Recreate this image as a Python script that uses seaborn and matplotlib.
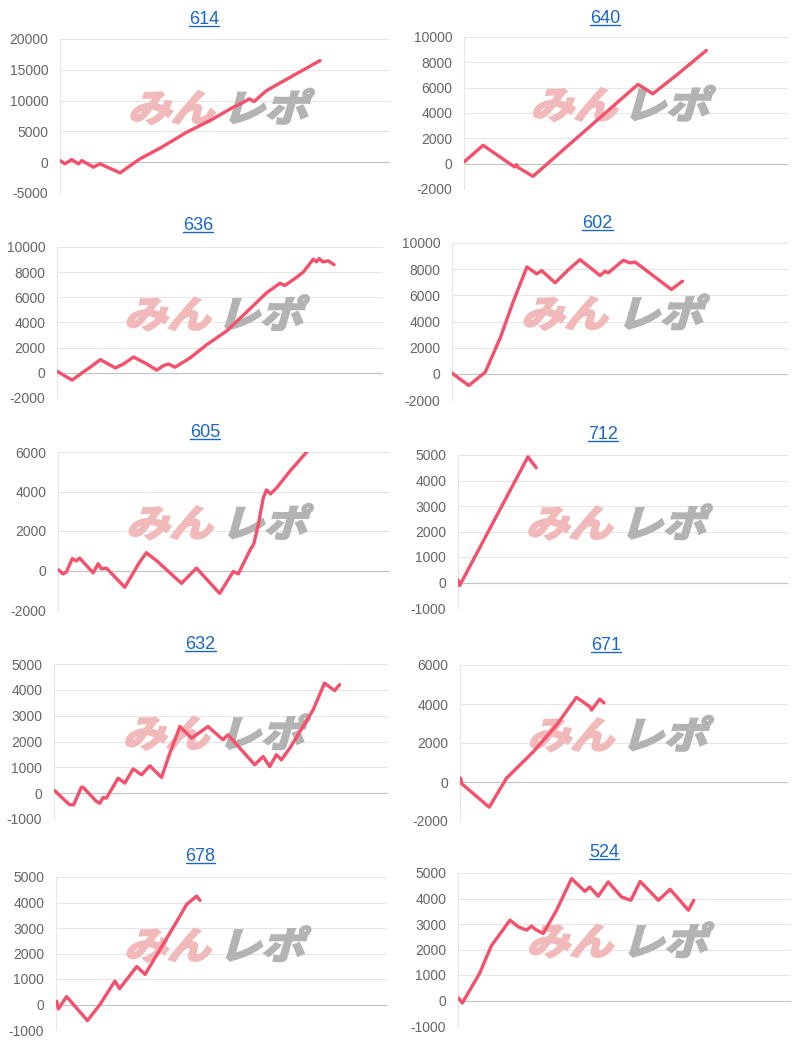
import matplotlib
matplotlib.use("Agg")
import matplotlib.pyplot as plt
import seaborn as sns
import pandas as pd
from matplotlib.patheffects import AbstractPathEffect
from matplotlib.transforms import Affine2D
from matplotlib.lines import Line2D

# ---------------- data (x = position along the axis in %, y = balance) ----------------
titles = ["614", "640", "636", "602", "605", "712", "632", "671", "678", "524"]

x_614 = [0, 1.5, 3.5, 5.6, 6.6, 10.1, 12.1, 18.2, 24.2, 30.3, 38.4, 45.5, 52.5, 55.6, 57.4, 58.8, 62.6, 70.7, 78.8]
y_614 = [270, -270, 430, -270, 270, -810, -270, -1730, 540, 2270, 4870, 6760, 8930, 9740, 10280, 9850, 11630, 14070, 16500]

x_640 = [0, 5.9, 15.6, 16.2, 16.7, 21.3, 53.7, 58.3, 65.5, 74.8]
y_640 = [130, 1450, -260, -80, -300, -1000, 6260, 5520, 6970, 8940]

x_636 = [0, 4.6, 7.7, 10.2, 13.3, 17.9, 20.4, 23.5, 27.6, 30.6, 32.7, 34.2, 36.2, 40.8, 45.9, 52.0,
         58.2, 64.3, 68.4, 69.9, 73.5, 75.5, 78.6, 79.6, 80.4, 81.6, 83.2, 85.0]
y_636 = [130, -580, 0, 450, 1050, 390, 700, 1260, 700, 210, 580, 700, 450, 1180, 2230, 3320,
         4840, 6360, 7120, 6940, 7590, 7990, 9030, 8820, 9080, 8820, 8900, 8590]

x_602 = [0, 5.0, 9.9, 14.4, 18.3, 22.3, 25.2, 26.7, 30.7, 34.7, 38.1, 44.1, 45.5, 46.5, 51.0, 53.0, 54.5, 65.3, 68.6]
y_602 = [50, -890, 130, 2780, 5570, 8170, 7640, 7890, 6960, 7970, 8730, 7510, 7840, 7720, 8680, 8480, 8550, 6450, 7080]

x_605 = [0, 1.5, 2.5, 4.3, 5.5, 6.5, 10.6, 12.1, 13.1, 14.6, 20.1, 24.6, 26.6, 29.6, 37.2, 41.7, 48.7,
         52.8, 54.3, 57.8, 59.0, 60.3, 61.8, 62.8, 64.0, 65.8, 69.8, 74.9]
y_605 = [50, -170, -85, 600, 480, 630, -120, 340, 85, 120, -850, 425, 900, 510, -650, 120, -1160,
         -50, -170, 1020, 1360, 2300, 3660, 4080, 3880, 4170, 5020, 6000]

x_712 = [0, 0.5, 21.2, 23.7]
y_712 = [100, -120, 4930, 4500]

x_632 = [0.2, 1.7, 4.7, 5.9, 8.2, 8.7, 12.7, 13.7, 14.7, 15.7, 19.2, 21.2, 23.7, 26.2, 28.7, 32.2,
         34.7, 37.7, 41.2, 46.1, 50.6, 52.1, 60.1, 62.6, 64.6, 66.6, 68.1, 70.6, 77.6, 81.0, 84.0, 85.5]
y_632 = [100, -90, -450, -450, 230, 230, -320, -390, -170, -190, 580, 390, 940, 710, 1060, 610,
         1550, 2580, 2130, 2580, 2070, 2260, 1100, 1420, 1030, 1490, 1290, 1740, 3230, 4260, 3970, 4200]

x_671 = [0.2, 0.5, 8.9, 14.2, 22.3, 29.4, 35.5, 39.6, 40.1, 42.6, 43.9]
y_671 = [200, -85, -1290, 200, 1540, 2910, 4340, 3860, 3690, 4250, 4060]

x_678 = [0.2, 0.7, 3.2, 9.5, 13.3, 17.8, 19.2, 24.4, 26.9, 35.5, 39.5, 42.5, 43.5]
y_678 = [130, -170, 310, -630, 0, 920, 620, 1490, 1180, 3040, 3930, 4250, 4080]

x_524 = [0.2, 1.3, 6.5, 10.0, 15.6, 18.1, 20.6, 22.1, 23.1, 25.6, 29.6, 34.1, 38.1, 39.6, 42.1, 45.1,
         49.1, 51.9, 54.7, 60.2, 63.7, 69.2, 70.8]
y_524 = [90, -100, 1070, 2140, 3150, 2890, 2760, 2920, 2800, 2630, 3540, 4780, 4280, 4450, 4090, 4650,
         4060, 3930, 4670, 3930, 4360, 3540, 3930]

yticks_614 = [-5000, 0, 5000, 10000, 15000, 20000]
yticks_640 = [-2000, 0, 2000, 4000, 6000, 8000, 10000]
yticks_636 = [-2000, 0, 2000, 4000, 6000, 8000, 10000]
yticks_602 = [-2000, 0, 2000, 4000, 6000, 8000, 10000]
yticks_605 = [-2000, 0, 2000, 4000, 6000]
yticks_712 = [-1000, 0, 1000, 2000, 3000, 4000, 5000]
yticks_632 = [-1000, 0, 1000, 2000, 3000, 4000, 5000]
yticks_671 = [-2000, 0, 2000, 4000, 6000]
yticks_678 = [-1000, 0, 1000, 2000, 3000, 4000, 5000]
yticks_524 = [-1000, 0, 1000, 2000, 3000, 4000, 5000]

series_x = [x_614, x_640, x_636, x_602, x_605, x_712, x_632, x_671, x_678, x_524]
series_y = [y_614, y_640, y_636, y_602, y_605, y_712, y_632, y_671, y_678, y_524]
yticks = [yticks_614, yticks_640, yticks_636, yticks_602, yticks_605,
          yticks_712, yticks_632, yticks_671, yticks_678, yticks_524]

# ---------------- layout (pixels) ----------------
W, H = 800, 1042
axes_px = [(60, 39, 390, 193), (464, 37, 788, 189),
           (57, 247, 383, 398), (452, 243, 788, 400),
           (58, 452, 390, 610), (458, 455, 788, 608),
           (54, 664, 388, 819), (460, 665, 788, 821),
           (56, 877, 387, 1030), (458, 873, 791, 1026)]
title_px = [(204, 24), (605, 23), (198, 230), (597.5, 228), (205, 437),
            (603, 439), (200.5, 649), (606.5, 650), (200.5, 861), (604, 857)]

LINE = "#f4506b"
GRID = "#e6e6e6"
ZERO = "#c4c4c4"
TICK = "#666666"
TITLE = "#1a66c9"


class Slant(AbstractPathEffect):
    """Stretch, slant and embolden glyph outlines (logo-like watermark)."""
    def __init__(self, sx=1.15, shear=14, stroke=1.6, color="k"):
        super().__init__()
        self.sx = sx
        self.shear = shear
        self.stroke = stroke
        self.color = color

    def draw_path(self, renderer, gc, tpath, affine, rgbFace=None):
        pre = Affine2D().skew_deg(self.shear, 0).scale(self.sx, 1.0)
        gc0 = renderer.new_gc()
        gc0.copy_properties(gc)
        gc0.set_linewidth(self.stroke)
        gc0.set_foreground(self.color)
        gc0.set_joinstyle("miter")
        renderer.draw_path(gc0, tpath, pre + affine, rgbFace)
        gc0.restore()


sns.set_theme(style="white")
plt.rcParams['font.family'] = ['Liberation Sans', 'DejaVu Sans']
plt.rcParams['axes.unicode_minus'] = False

fig = plt.figure(figsize=(W / 100, H / 100), dpi=100)
fig.patch.set_facecolor("white")

PINK_WM = "#f1b9b9"
GRAY_WM = "#b3b3b3"

title_texts = []
for i in range(len(titles)):
    L, T, R, B = axes_px[i]
    ax = fig.add_axes([L / W, 1 - B / H, (R - L) / W, (B - T) / H])
    df = pd.DataFrame({"x": series_x[i], "y": series_y[i]})
    sns.lineplot(data=df, x="x", y="y", ax=ax, color=LINE, lw=2.4, sort=False,
                 estimator=None, zorder=4)
    ax.set_xlim(0, 100)
    tk = yticks[i]
    ax.set_ylim(tk[0], tk[-1])
    ax.set_yticks(tk)
    ax.set_yticklabels([str(t) for t in tk])
    ax.set_xticks([])
    ax.set_xlabel("")
    ax.set_ylabel("")
    for s in ["top", "right", "bottom"]:
        ax.spines[s].set_visible(False)
    ax.spines["left"].set_color(GRID)
    ax.spines["left"].set_linewidth(0.8)
    ax.grid(axis="y", color=GRID, lw=0.8, zorder=0)
    ax.grid(axis="x", visible=False)
    ax.axhline(0, color=ZERO, lw=0.8, zorder=1)
    ax.tick_params(axis="y", length=0, pad=8.5, labelsize=10, labelcolor=TICK)
    ax.set_facecolor("white")

    # watermark
    ax.text(0.205, 0.465, "みん", transform=ax.transAxes, fontsize=27, fontweight="bold",
            color=PINK_WM, family=["Noto Sans CJK JP", "DejaVu Sans"], ha="left",
            va="baseline", zorder=2, path_effects=[Slant(1.15, 14, 1.8, PINK_WM)])
    ax.text(0.49, 0.465, "レポ", transform=ax.transAxes, fontsize=27, fontweight="bold",
            color=GRAY_WM, family=["Noto Sans CJK JP", "DejaVu Sans"], ha="left",
            va="baseline", zorder=2, path_effects=[Slant(1.15, 14, 1.8, GRAY_WM)])

    tx, ty = title_px[i]
    t = ax.set_title(titles[i], x=(tx - L) / (R - L), y=(B - ty) / (B - T), pad=0,
                     va="baseline", ha="center", fontsize=13, color=TITLE)
    title_texts.append((t, ty))

# underline titles
fig.canvas.draw()
renderer = fig.canvas.get_renderer()
for t, ty in title_texts:
    bb = t.get_window_extent(renderer)
    yline = 1 - (ty + 2.2) / H
    fig.add_artist(Line2D([bb.x0 / W, bb.x1 / W], [yline, yline], transform=fig.transFigure,
                          color=TITLE, lw=1.0))

fig.savefig("out.png", dpi=100, facecolor="white")
